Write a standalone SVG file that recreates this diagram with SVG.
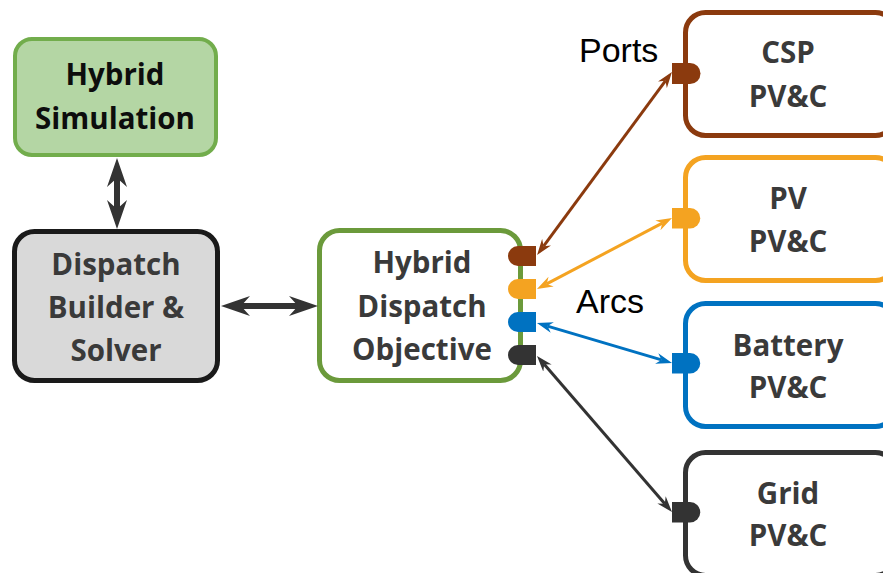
<svg xmlns="http://www.w3.org/2000/svg" width="883" height="573" viewBox="0 0 883 573">
  <style>
    .box { stroke-width: 5; }
    .label { font-family: "Open Sans", "DejaVu Sans", sans-serif; font-weight: bold; font-size: 29.5px; text-anchor: middle; fill: #3a3a3a; }
    .dark { fill: #0d0d0d; }
    .note { font-family: "Liberation Sans", Arial, sans-serif; font-size: 34px; fill: #000; }
    .arc { fill: none; stroke-width: 3; }
  </style>
  <defs>
    <!-- heavy stealth head for the builder links; ref point at the notch -->
    <marker id="heavy" markerUnits="userSpaceOnUse" markerWidth="30" markerHeight="22" viewBox="0 -11 29 22" refX="9" refY="0" orient="auto-start-reverse">
      <path d="M29,0 L0,-10 L9,0 L0,10 Z" fill="#333"/>
    </marker>
    <marker id="h-brown" markerUnits="userSpaceOnUse" markerWidth="16" markerHeight="12" viewBox="0 -6 16 12" refX="5" refY="0" orient="auto-start-reverse">
      <path d="M16,0 L0,-5.5 L5,0 L0,5.5 Z" fill="#8b3a0e"/>
    </marker>
    <marker id="h-orange" markerUnits="userSpaceOnUse" markerWidth="16" markerHeight="12" viewBox="0 -6 16 12" refX="5" refY="0" orient="auto-start-reverse">
      <path d="M16,0 L0,-5.5 L5,0 L0,5.5 Z" fill="#f4a321"/>
    </marker>
    <marker id="h-blue" markerUnits="userSpaceOnUse" markerWidth="16" markerHeight="12" viewBox="0 -6 16 12" refX="5" refY="0" orient="auto-start-reverse">
      <path d="M16,0 L0,-5.5 L5,0 L0,5.5 Z" fill="#0072c1"/>
    </marker>
    <marker id="h-dark" markerUnits="userSpaceOnUse" markerWidth="16" markerHeight="12" viewBox="0 -6 16 12" refX="5" refY="0" orient="auto-start-reverse">
      <path d="M16,0 L0,-5.5 L5,0 L0,5.5 Z" fill="#333"/>
    </marker>
  </defs>

  <rect width="883" height="573" fill="#fff"/>

  <g id="hybrid-simulation">
    <rect x="15" y="39" width="201" height="116" rx="17" fill="#b4d6a4" stroke="#72ad4c" stroke-width="4"/>
    <text class="label dark" x="115" y="85">Hybrid</text>
    <text class="label dark" x="115" y="129">Simulation</text>
  </g>

  <g id="dispatch-builder">
    <rect class="box" x="14.5" y="231.5" width="203" height="149" rx="20" fill="#d9d9d9" stroke="#1a1a1a"/>
    <text class="label" x="116" y="275">Dispatch</text>
    <text class="label" x="116" y="318">Builder &amp;</text>
    <text class="label" x="116" y="361">Solver</text>
  </g>

  <g id="dispatch-objective">
    <rect class="box" x="319.5" y="230.5" width="201" height="150" rx="20" fill="#fff" stroke="#6b9a3b"/>
    <text class="label" x="422" y="273">Hybrid</text>
    <text class="label" x="422" y="317">Dispatch</text>
    <text class="label" x="422" y="360">Objective</text>
    <!-- ports on the objective's right edge -->
    <path d="M536,246 H518 A10,10 0 0 0 518,266 H536 Z" fill="#8b3a0e"/>
    <path d="M536,279 H518 A10,10 0 0 0 518,299 H536 Z" fill="#f4a321"/>
    <path d="M536,312 H518 A10,10 0 0 0 518,332 H536 Z" fill="#0072c1"/>
    <path d="M536,345 H518 A10,10 0 0 0 518,365 H536 Z" fill="#333"/>
  </g>

  <g id="csp">
    <rect class="box" x="685.5" y="12.5" width="210" height="123" rx="20" fill="#fff" stroke="#8b3a0e"/>
    <path d="M672,63 H690 A10.5,10.5 0 0 1 690,84 H672 Z" fill="#8b3a0e"/>
    <text class="label" x="788" y="63">CSP</text>
    <text class="label" x="788" y="107">PV&amp;C</text>
  </g>

  <g id="pv">
    <rect class="box" x="685.5" y="157.5" width="210" height="123" rx="20" fill="#fff" stroke="#f4a321"/>
    <path d="M672,208 H690 A10.25,10.25 0 0 1 690,228.5 H672 Z" fill="#f4a321"/>
    <text class="label" x="788" y="209">PV</text>
    <text class="label" x="788" y="252">PV&amp;C</text>
  </g>

  <g id="battery">
    <rect class="box" x="685.5" y="303.5" width="210" height="123" rx="20" fill="#fff" stroke="#0072c1"/>
    <path d="M672,353 H690 A10.25,10.25 0 0 1 690,373.5 H672 Z" fill="#0072c1"/>
    <text class="label" x="788" y="356">Battery</text>
    <text class="label" x="788" y="398">PV&amp;C</text>
  </g>

  <g id="grid">
    <rect class="box" x="685.5" y="452.5" width="210" height="123" rx="20" fill="#fff" stroke="#333"/>
    <path d="M672,502 H690 A10.25,10.25 0 0 1 690,522.5 H672 Z" fill="#333"/>
    <text class="label" x="788" y="504">Grid</text>
    <text class="label" x="788" y="546">PV&amp;C</text>
  </g>

  <g id="notes">
    <text class="note" x="579" y="62">Ports</text>
    <text class="note" x="576" y="313">Arcs</text>
  </g>

  <g id="connectors">
    <line x1="117" y1="178" x2="117" y2="209" stroke="#333" stroke-width="6" marker-start="url(#heavy)" marker-end="url(#heavy)"/>
    <line x1="241" y1="306" x2="298" y2="306" stroke="#333" stroke-width="6" marker-start="url(#heavy)" marker-end="url(#heavy)"/>
    <line class="arc" x1="543.6" y1="246.2" x2="665.4" y2="80.8" stroke="#8b3a0e" marker-start="url(#h-brown)" marker-end="url(#h-brown)"/>
    <line class="arc" x1="546.7" y1="283.9" x2="662.3" y2="223.1" stroke="#f4a321" marker-start="url(#h-orange)" marker-end="url(#h-orange)"/>
    <line class="arc" x1="547.5" y1="326.1" x2="661.5" y2="359.9" stroke="#0072c1" marker-start="url(#h-blue)" marker-end="url(#h-blue)"/>
    <line class="arc" x1="544.2" y1="364.3" x2="664.8" y2="503.7" stroke="#333" marker-start="url(#h-dark)" marker-end="url(#h-dark)"/>
  </g>
</svg>
